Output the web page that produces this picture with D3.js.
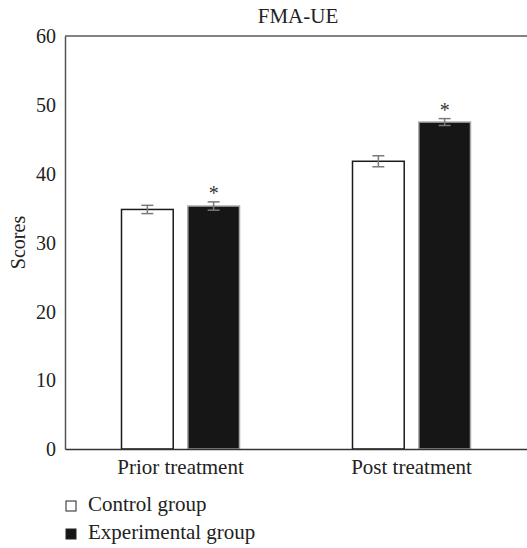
<!DOCTYPE html>
<html>
<head>
<meta charset="utf-8">
<script src="https://cdn.jsdelivr.net/npm/d3@7"></script>
<style>
  body { margin: 0; background: #fff; }
  svg text { font-family: "Liberation Serif", "DejaVu Serif", serif !important; fill: #222; }
</style>
</head>
<body>
<div id="chart"></div>
<script>
const categories = ['Prior treatment', 'Post treatment']
const groups = ['Control group', 'Experimental group']
const control = [34.8, 41.8]
const control_err = [0.6, 0.8]
const experimental = [35.3, 47.5]
const experimental_err = [0.6, 0.5]
const significant = [true, true]
const y_ticks = [0, 10, 20, 30, 40, 50, 60]

const width = 527, height = 548
const margin = ({ top: 36, right: 0, bottom: 99, left: 65 })
const fs = 21

const svg = d3.select('#chart').append('svg')
    .attr('width', width)
    .attr('height', height)

const x = d3.scaleBand()
    .domain(categories)
    .range([margin.left, width - margin.right])
const xInner = d3.scaleBand()
    .domain(groups)
    .range([x.bandwidth() / 2 - 59, x.bandwidth() / 2 + 59])
    .paddingInner(0.22)
const y = d3.scaleLinear()
    .domain([0, 60])
    .range([height - margin.bottom, margin.top])

const data = categories.flatMap((c, i) => [
    { cat: c, group: groups[0], value: control[i], err: control_err[i], star: false },
    { cat: c, group: groups[1], value: experimental[i], err: experimental_err[i], star: significant[i] }
])

// top line of the frame
svg.append('line')
    .attr('x1', margin.left).attr('x2', width)
    .attr('y1', y(60)).attr('y2', y(60))
    .attr('stroke', '#5a5a5a').attr('stroke-width', 1.5)

const yAxis = g => g
    .attr('transform', `translate(${margin.left},0)`)
    .call(d3.axisLeft(y).tickValues(y_ticks).tickSize(0).tickPadding(9))
    .call(g => g.select('.domain').attr('stroke', '#555').attr('stroke-width', 1.5))
    .call(g => g.selectAll('text').attr('font-size', 20).attr('dy', '0.34em'))

svg.append('g').call(yAxis)

// bars
svg.append('g').selectAll('rect')
    .data(data)
    .join('rect')
    .attr('x', d => x(d.cat) + xInner(d.group))
    .attr('y', d => y(d.value))
    .attr('width', xInner.bandwidth())
    .attr('height', d => y(0) - y(d.value))
    .attr('fill', d => d.group === groups[0] ? '#fff' : '#161616')
    .attr('stroke', d => d.group === groups[0] ? '#1a1a1a' : '#aaa')
    .attr('stroke-width', 1.5)

const xAxis = g => g
    .attr('transform', `translate(0,${y(0)})`)
    .call(d3.axisBottom(x).tickSize(0).tickPadding(10))
    .call(g => g.select('.domain').attr('stroke', '#333').attr('stroke-width', 1.5))
    .call(g => g.selectAll('text').attr('font-size', fs))

svg.append('g').call(xAxis)

// error bars
const eb = svg.append('g')
    .attr('stroke', '#7a7a7a')
    .attr('stroke-width', 1.5)
    .selectAll('g')
    .data(data)
    .join('g')
    .attr('transform', d => `translate(${x(d.cat) + xInner(d.group) + xInner.bandwidth() / 2},0)`)
eb.append('line')
    .attr('y1', d => y(d.value + d.err)).attr('y2', d => y(d.value - d.err))
eb.append('line')
    .attr('x1', -6).attr('x2', 6)
    .attr('y1', d => y(d.value + d.err)).attr('y2', d => y(d.value + d.err))
eb.append('line')
    .attr('x1', -6).attr('x2', 6)
    .attr('y1', d => y(d.value - d.err)).attr('y2', d => y(d.value - d.err))

// asterisks
svg.append('g').selectAll('text')
    .data(data.filter(d => d.star))
    .join('text')
    .attr('x', d => x(d.cat) + xInner(d.group) + xInner.bandwidth() / 2)
    .attr('y', d => y(d.value + d.err) - 2)
    .attr('text-anchor', 'middle')
    .attr('font-size', 20)
    .style('fill', '#333')
    .text('*')

// title
svg.append('text')
    .attr('x', (margin.left + width) / 2 + 2)
    .attr('y', 23)
    .attr('text-anchor', 'middle')
    .attr('font-size', fs)
    .text('FMA-UE')

// y label
svg.append('text')
    .attr('transform', `translate(25,${(y(0) + y(60)) / 2}) rotate(-90)`)
    .attr('text-anchor', 'middle')
    .attr('font-size', 20)
    .text('Scores')

// legend
const legend = svg.append('g').selectAll('g')
    .data(groups)
    .join('g')
    .attr('transform', (d, i) => `translate(66,${506 + i * 28})`)
legend.append('rect')
    .attr('x', 0).attr('y', -5)
    .attr('width', 10).attr('height', 10)
    .attr('fill', (d, i) => i === 0 ? '#fff' : '#161616')
    .attr('stroke', '#222')
    .attr('stroke-width', 1)
legend.append('text')
    .attr('x', 22)
    .attr('y', 5)
    .attr('font-size', fs)
    .text(d => d)
</script>
</body>
</html>
